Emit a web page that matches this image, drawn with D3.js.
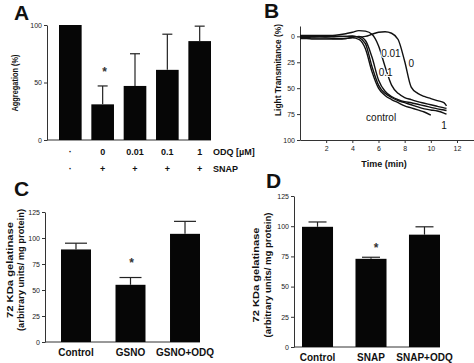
<!DOCTYPE html>
<html>
<head>
<meta charset="utf-8">
<script src="https://cdn.jsdelivr.net/npm/d3@7"></script>
<style>
  body { margin: 0; background: #fff; }
  svg { display: block; font-family: "Liberation Sans", Arial, sans-serif; }
  .tick text { font-size: 7px; fill: #222; }
  .domain, .tick line, .base { stroke: #333; stroke-width: 1; }
  .lbl { font-weight: bold; fill: #111; }
  .letter { font-size: 21px; font-weight: bold; fill: #111; }
</style>
</head>
<body>
<svg id="fig" width="474" height="363"></svg>
<script>
// ---- panel A: aggregation
const aggrOdq = ["·", "0", "0.01", "0.1", "1"];
const aggrSnap = ["·", "+", "+", "+", "+"];
const aggrMean = [100, 31, 47, 61, 86];
const aggrErr = [0, 16, 28, 31, 13];
const aggrSig = [false, true, false, false, false];
const aggrTicks = [0, 50, 100];

// ---- panel B: light transmittance traces
const timeMin = [0, 0.5, 1, 1.5, 2, 2.5, 3, 3.5, 4, 4.5, 5, 5.5, 6, 6.5, 7, 7.5, 8, 8.5, 9, 9.5, 10, 10.5, 11, 11.2];
const traceControl = [1, 1, 1.5, 1.5, 1.5, 2, 2, 2, 1.5, 3, 12, 34, 50, 57, 61, 64, 67, 69, 71, 73, 76, null, null, null];
const traceOne = [0, 0, 0.5, 0, 0.5, 0.5, 0, 0, -0.5, 1, 7, 29, 47, 55, 59, 62, 64, 66, 68, 70, 71, 72, 74, 75];
const tracePt1 = [2, 2, 2.5, 2.5, 2.5, 2.5, 2.5, 2, 1, 0, 4, 20, 42, 53, 58, 61, 63, 64, 65.5, 67, 68.5, 70, 71, 71.5];
const tracePt01 = [-1, -1, -1, -1, -1, -1, -1.5, -2.5, -4, -5.5, -5, -2, 9, 29, 47, 55, 59, 61, 63, 64.5, 66, 67.5, 69, 69.5];
const traceZero = [0, 0, 0, 0, 0, 0, 0, 0, 0, 0.5, 0, -2, -4, -4.5, -3, 3, 24, 49, 55, 58, 60, 62, 64, 67];
const timeTicks = [2, 4, 6, 8, 10, 12];
const transTicks = [0, 25, 50, 75, 100];

// ---- panel C: GSNO
const gsnoGroups = ["Control", "GSNO", "GSNO+ODQ"];
const gsnoMean = [89, 55, 104];
const gsnoErr = [6, 7, 12];
const gsnoSig = [false, true, false];

// ---- panel D: SNAP
const snapGroups = ["Control", "SNAP", "SNAP+ODQ"];
const snapMean = [99.5, 73, 93];
const snapErr = [4, 1.3, 6.5];
const snapSig = [false, true, false];
const gelTicks = [0, 25, 50, 75, 100, 125];

const svg = d3.select("#fig");

function barPanel(o) {
  const g = svg.append("g");
  const x = d3.scaleBand().domain(o.cats).range(o.xr).paddingInner(o.pad);
  const y = d3.scaleLinear().domain(o.yd).range(o.yr);
  const bw = x.bandwidth();

  g.append("g")
    .attr("transform", `translate(${o.x0},0)`)
    .call(d3.axisLeft(y).tickValues(o.ticks).tickSize(3).tickSizeOuter(0).tickPadding(2));
  g.append("line").attr("class", "base")
    .attr("x1", o.x0).attr("x2", o.xr[1])
    .attr("y1", y(0)).attr("y2", y(0));

  const rows = o.cats.map((c, i) => ({ c, m: o.mean[i], e: o.err[i], s: o.sig[i] }));

  g.selectAll("rect.bar").data(rows).join("rect")
    .attr("class", "bar")
    .attr("x", d => x(d.c))
    .attr("y", d => y(d.m))
    .attr("width", bw)
    .attr("height", d => y(0) - y(d.m))
    .attr("fill", "#060606");

  const eb = g.selectAll("g.err").data(rows.filter(d => d.e > 0)).join("g").attr("class", "err");
  eb.append("line")
    .attr("x1", d => x(d.c) + bw / 2).attr("x2", d => x(d.c) + bw / 2)
    .attr("y1", d => y(d.m)).attr("y2", d => y(d.m + d.e))
    .attr("stroke", "#222").attr("stroke-width", 1.2);
  eb.append("line")
    .attr("x1", d => x(d.c) + bw / 2 - o.cap / 2).attr("x2", d => x(d.c) + bw / 2 + o.cap / 2)
    .attr("y1", d => y(d.m + d.e)).attr("y2", d => y(d.m + d.e))
    .attr("stroke", "#222").attr("stroke-width", 1.2);

  g.selectAll("text.star").data(rows.filter(d => d.s)).join("text")
    .attr("class", "star")
    .attr("x", d => x(d.c) + bw / 2 + o.starDx)
    .attr("y", d => y(d.m + d.e) - o.starDy)
    .attr("text-anchor", "middle")
    .attr("font-size", 12)
    .attr("font-weight", "bold")
    .attr("fill", "#333")
    .text("*");

  return { g, x, y, bw };
}

function yLabel(lines, cx, cy, size, lens) {
  lines.forEach((t, i) => {
    svg.append("text").attr("class", "lbl")
      .attr("transform", `translate(${cx[i]},${cy}) rotate(-90)`)
      .attr("text-anchor", "middle")
      .attr("dy", "0.35em")
      .attr("font-size", size)
      .attr("textLength", lens[i])
      .attr("lengthAdjust", "spacingAndGlyphs")
      .text(t);
  });
}

// ---------- A
const A = barPanel({
  cats: aggrOdq.map((d, i) => i), mean: aggrMean, err: aggrErr, sig: aggrSig,
  xr: [59, 211], pad: 0.3, x0: 47, yd: [0, 100], yr: [140, 25], ticks: aggrTicks,
  cap: 10, starDx: 2, starDy: 10
});
[aggrOdq, aggrSnap].forEach((row, r) => {
  svg.selectAll(null).data(row).join("text").attr("class", "lbl")
    .attr("x", (d, i) => A.x(i) + A.bw / 2)
    .attr("y", 155 + r * 17)
    .attr("text-anchor", "middle")
    .attr("font-size", 9)
    .text(d => d);
});
svg.append("text").attr("class", "lbl").attr("x", 213).attr("y", 155).attr("font-size", 9).text("ODQ [µM]");
svg.append("text").attr("class", "lbl").attr("x", 213).attr("y", 172).attr("font-size", 9).text("SNAP");
yLabel(["Aggregation (%)"], [15], 83, 9, [57]);
svg.append("text").attr("class", "letter").attr("x", 14).attr("y", 20).text("A");

// ---------- B
const gB = svg.append("g");
const tx = d3.scaleLinear().domain([0, 13.3]).range([300, 474]);
const ty = d3.scaleLinear().domain([-10, 100]).range([26, 140]);
gB.append("g").attr("transform", "translate(300,0)")
  .call(d3.axisLeft(ty).tickValues(transTicks).tickSize(3).tickSizeOuter(0).tickPadding(2));
gB.append("g").attr("transform", "translate(0,140)")
  .call(d3.axisBottom(tx).tickValues(timeTicks).tickSize(3).tickSizeOuter(0).tickPadding(3));

const line = d3.line()
  .defined(d => d[1] != null)
  .x(d => tx(d[0]))
  .y(d => ty(d[1]))
  .curve(d3.curveMonotoneX);

[traceControl, traceOne, tracePt1, tracePt01, traceZero].forEach(vals => {
  gB.append("path")
    .datum(vals.map((v, i) => [timeMin[i], v]))
    .attr("d", line)
    .attr("fill", "none")
    .attr("stroke", "#111")
    .attr("stroke-width", 1.4);
});

const traceLabels = [
  { t: "0.01", at: [6.95, 16.5] },
  { t: "0.1", at: [6.55, 35] },
  { t: "0", at: [8.5, 26] },
  { t: "control", at: [6.2, 78.5] },
  { t: "1", at: [11, 86] }
];
gB.selectAll("text.tr").data(traceLabels).join("text")
  .attr("class", "tr")
  .attr("x", d => tx(d.at[0]))
  .attr("y", d => ty(d.at[1]))
  .attr("dy", "0.35em")
  .attr("text-anchor", "middle")
  .attr("font-size", 10)
  .attr("fill", "#111")
  .attr("stroke", "#fff").attr("stroke-width", 2).attr("paint-order", "stroke")
  .text(d => d.t);

svg.append("text").attr("class", "lbl").attr("x", 384).attr("y", 167)
  .attr("text-anchor", "middle").attr("font-size", 9).text("Time (min)");
yLabel(["Light Transmitance (%)"], [278], 70, 9.5, [92]);
svg.append("text").attr("class", "letter").attr("x", 264).attr("y", 18).text("B");

// ---------- C
const C = barPanel({
  cats: gsnoGroups, mean: gsnoMean, err: gsnoErr, sig: gsnoSig,
  xr: [61, 200], pad: 0.45, x0: 45, yd: [0, 125], yr: [342, 212], ticks: gelTicks,
  cap: 22, starDx: 1, starDy: 11
});
C.g.selectAll("text.cat").data(gsnoGroups).join("text").attr("class", "lbl cat")
  .attr("x", d => C.x(d) + C.bw / 2).attr("y", 356)
  .attr("text-anchor", "middle").attr("font-size", 10).text(d => d);
yLabel(["72 KDa gelatinase", "(arbitrary units/ mg protein)"], [10, 20.5], 270, 9.5, [96, 122]);
svg.append("text").attr("class", "letter").attr("x", 14).attr("y", 196).text("C");

// ---------- D
const D = barPanel({
  cats: snapGroups, mean: snapMean, err: snapErr, sig: snapSig,
  xr: [302, 440], pad: 0.42, x0: 294, yd: [0, 125], yr: [347, 196], ticks: gelTicks,
  cap: 18, starDx: 5, starDy: 5
});
D.g.selectAll("text.cat").data(snapGroups).join("text").attr("class", "lbl cat")
  .attr("x", d => D.x(d) + D.bw / 2).attr("y", 361)
  .attr("text-anchor", "middle").attr("font-size", 10).text(d => d);
yLabel(["72 KDa gelatinase", "(arbitrary units/ mg protein)"], [256, 268], 275, 9.5, [95, 125]);
svg.append("text").attr("class", "letter").attr("x", 266).attr("y", 188).text("D");
</script>
</body>
</html>
